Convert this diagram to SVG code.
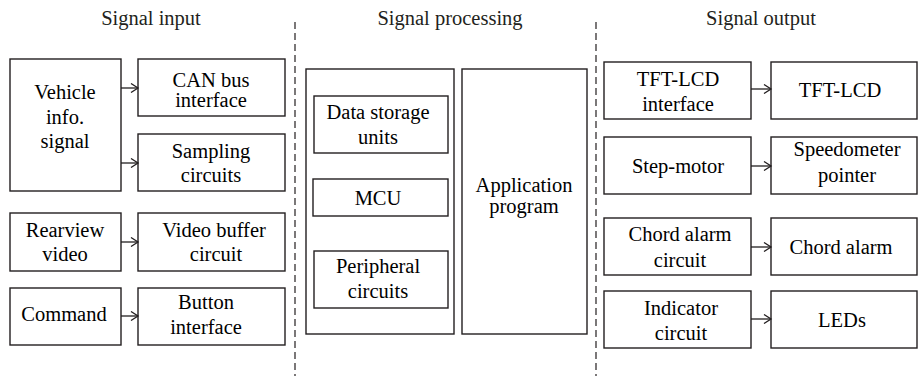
<svg xmlns="http://www.w3.org/2000/svg" width="921" height="379" viewBox="0 0 921 379">
<defs>
<marker id="ah" markerWidth="10" markerHeight="10" refX="8" refY="5" orient="auto" markerUnits="userSpaceOnUse">
<path d="M1,0.5 L8,5 L1,9.5" fill="none" stroke="#231f20" stroke-width="1.3"/>
</marker>
</defs>
<rect width="921" height="379" fill="#fff"/>
<g id="titles" font-family="Liberation Serif" font-size="20.5" text-anchor="middle" fill="#231f20">
<text x="151" y="25">Signal input</text>
<text x="450" y="25">Signal processing</text>
<text x="761" y="25">Signal output</text>
</g>
<g id="dividers" stroke="#231f20" stroke-width="1.2" stroke-dasharray="7 4" fill="none">
<line x1="295" y1="22" x2="295" y2="376"/>
<line x1="596" y1="22" x2="596" y2="376"/>
</g>
<g id="vehicle"><rect x="10" y="59" width="111" height="132" fill="#fff" stroke="#231f20" stroke-width="1.4"/>
<text x="65" y="99" font-family="Liberation Serif" font-size="20.5" text-anchor="middle">Vehicle</text><text x="65" y="124" font-family="Liberation Serif" font-size="20.5" text-anchor="middle">info.</text><text x="65" y="148" font-family="Liberation Serif" font-size="20.5" text-anchor="middle">signal</text></g>
<g id="canbus"><rect x="138" y="59" width="147" height="57" fill="#fff" stroke="#231f20" stroke-width="1.4"/>
<text x="211" y="87" font-family="Liberation Serif" font-size="20.5" text-anchor="middle">CAN bus</text><text x="211" y="107" font-family="Liberation Serif" font-size="20.5" text-anchor="middle">interface</text></g>
<g id="sampling"><rect x="138" y="134" width="147" height="57" fill="#fff" stroke="#231f20" stroke-width="1.4"/>
<text x="211" y="158" font-family="Liberation Serif" font-size="20.5" text-anchor="middle">Sampling</text><text x="211" y="182" font-family="Liberation Serif" font-size="20.5" text-anchor="middle">circuits</text></g>
<g id="rearview"><rect x="10" y="213" width="111" height="58" fill="#fff" stroke="#231f20" stroke-width="1.4"/>
<text x="65" y="237" font-family="Liberation Serif" font-size="20.5" text-anchor="middle">Rearview</text><text x="65" y="261" font-family="Liberation Serif" font-size="20.5" text-anchor="middle">video</text></g>
<g id="videobuffer"><rect x="138" y="213" width="147" height="58" fill="#fff" stroke="#231f20" stroke-width="1.4"/>
<text x="214" y="237" font-family="Liberation Serif" font-size="20.5" text-anchor="middle">Video buffer</text><text x="216" y="261" font-family="Liberation Serif" font-size="20.5" text-anchor="middle">circuit</text></g>
<g id="command"><rect x="10" y="288" width="111" height="57" fill="#fff" stroke="#231f20" stroke-width="1.4"/>
<text x="64" y="321" font-family="Liberation Serif" font-size="20.5" text-anchor="middle">Command</text></g>
<g id="button"><rect x="138" y="288" width="147" height="57" fill="#fff" stroke="#231f20" stroke-width="1.4"/>
<text x="206" y="309" font-family="Liberation Serif" font-size="20.5" text-anchor="middle">Button</text><text x="206" y="334" font-family="Liberation Serif" font-size="20.5" text-anchor="middle">interface</text></g>
<g id="processor"><rect x="306" y="69" width="148" height="265" fill="#fff" stroke="#231f20" stroke-width="1.4"/></g>
<g id="datastorage"><rect x="314" y="96" width="134" height="57" fill="#fff" stroke="#231f20" stroke-width="1.4"/>
<text x="378" y="119" font-family="Liberation Serif" font-size="20.5" text-anchor="middle">Data storage</text><text x="378" y="144" font-family="Liberation Serif" font-size="20.5" text-anchor="middle">units</text></g>
<g id="mcu"><rect x="313" y="179" width="135" height="37" fill="#fff" stroke="#231f20" stroke-width="1.4"/>
<text x="378" y="205" font-family="Liberation Serif" font-size="20.5" text-anchor="middle">MCU</text></g>
<g id="peripheral"><rect x="314" y="251" width="134" height="57" fill="#fff" stroke="#231f20" stroke-width="1.4"/>
<text x="378" y="273" font-family="Liberation Serif" font-size="20.5" text-anchor="middle">Peripheral</text><text x="378" y="298" font-family="Liberation Serif" font-size="20.5" text-anchor="middle">circuits</text></g>
<g id="application"><rect x="462" y="69" width="125" height="265" fill="#fff" stroke="#231f20" stroke-width="1.4"/>
<text x="524" y="192" font-family="Liberation Serif" font-size="20.5" text-anchor="middle">Application</text><text x="524" y="213" font-family="Liberation Serif" font-size="20.5" text-anchor="middle">program</text></g>
<g id="tftif"><rect x="604" y="62" width="147" height="57" fill="#fff" stroke="#231f20" stroke-width="1.4"/>
<text x="678" y="86" font-family="Liberation Serif" font-size="20.5" text-anchor="middle">TFT-LCD</text><text x="678" y="111" font-family="Liberation Serif" font-size="20.5" text-anchor="middle">interface</text></g>
<g id="tftlcd"><rect x="771" y="62" width="146" height="57" fill="#fff" stroke="#231f20" stroke-width="1.4"/>
<text x="840" y="97" font-family="Liberation Serif" font-size="20.5" text-anchor="middle">TFT-LCD</text></g>
<g id="stepmotor"><rect x="604" y="137" width="147" height="57" fill="#fff" stroke="#231f20" stroke-width="1.4"/>
<text x="678" y="173" font-family="Liberation Serif" font-size="20.5" text-anchor="middle">Step-motor</text></g>
<g id="speedometer"><rect x="771" y="137" width="146" height="57" fill="#fff" stroke="#231f20" stroke-width="1.4"/>
<text x="847" y="156" font-family="Liberation Serif" font-size="20.5" text-anchor="middle">Speedometer</text><text x="847" y="182" font-family="Liberation Serif" font-size="20.5" text-anchor="middle">pointer</text></g>
<g id="chordcircuit"><rect x="604" y="218" width="147" height="57" fill="#fff" stroke="#231f20" stroke-width="1.4"/>
<text x="680" y="241" font-family="Liberation Serif" font-size="20.5" text-anchor="middle">Chord alarm</text><text x="680" y="267" font-family="Liberation Serif" font-size="20.5" text-anchor="middle">circuit</text></g>
<g id="chordalarm"><rect x="771" y="218" width="146" height="57" fill="#fff" stroke="#231f20" stroke-width="1.4"/>
<text x="841" y="254" font-family="Liberation Serif" font-size="20.5" text-anchor="middle">Chord alarm</text></g>
<g id="indicator"><rect x="604" y="291" width="147" height="57" fill="#fff" stroke="#231f20" stroke-width="1.4"/>
<text x="681" y="315" font-family="Liberation Serif" font-size="20.5" text-anchor="middle">Indicator</text><text x="681" y="340" font-family="Liberation Serif" font-size="20.5" text-anchor="middle">circuit</text></g>
<g id="leds"><rect x="771" y="291" width="146" height="57" fill="#fff" stroke="#231f20" stroke-width="1.4"/>
<text x="842" y="327" font-family="Liberation Serif" font-size="20.5" text-anchor="middle">LEDs</text></g>
<g id="connectors" stroke="#231f20" stroke-width="1.3" fill="none">
<line x1="121" y1="88" x2="138" y2="88" marker-end="url(#ah)"/>
<line x1="121" y1="163" x2="138" y2="163" marker-end="url(#ah)"/>
<line x1="121" y1="242" x2="138" y2="242" marker-end="url(#ah)"/>
<line x1="121" y1="316" x2="138" y2="316" marker-end="url(#ah)"/>
<line x1="751" y1="89" x2="771" y2="89" marker-end="url(#ah)"/>
<line x1="751" y1="166" x2="771" y2="166" marker-end="url(#ah)"/>
<line x1="751" y1="247" x2="771" y2="247" marker-end="url(#ah)"/>
<line x1="751" y1="319" x2="771" y2="319" marker-end="url(#ah)"/>
</g>
</svg>
